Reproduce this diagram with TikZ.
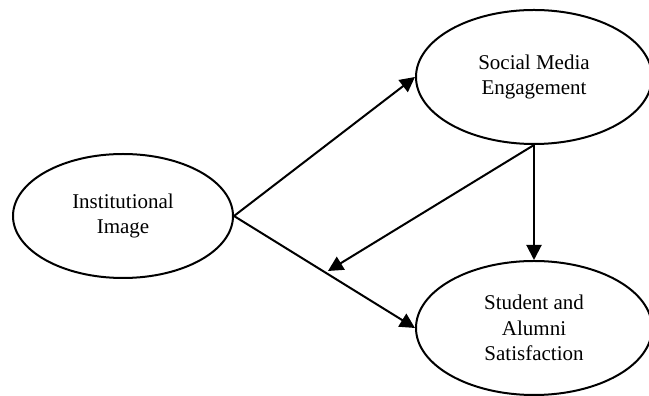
\documentclass[tikz,border=0pt]{standalone}
\usepackage{fontspec}
\setmainfont{Liberation Serif}
\usetikzlibrary{shapes.geometric,arrows.meta}
\begin{document}
\begin{tikzpicture}[x=1pt,y=1pt,
  construct/.style={ellipse,draw,line width=2pt,inner sep=0pt,align=center,
    font=\fontsize{21}{25.5}\selectfont},
  link/.style={line width=2pt,-{Triangle[length=15pt,width=15pt]}}]
\useasboundingbox (0,0) rectangle (649,396);
\node[construct,minimum width=220pt,minimum height=124pt] (inst) at (123,180) {Institutional\\Image};
\node[construct,minimum width=236pt,minimum height=134pt] (sme) at (534,319) {Social Media\\Engagement};
\node[construct,minimum width=236pt,minimum height=134pt] (sas) at (534,68) {Student and\\Alumni\\Satisfaction};
\coordinate (free) at (328,125);
\draw[link] (inst.east) -- (sme.west);
\draw[link] (inst.east) -- (sas.west);
\draw[link] (sme.south) -- (sas.north);
\draw[link] (sme.south) -- (free);
\end{tikzpicture}
\end{document}
